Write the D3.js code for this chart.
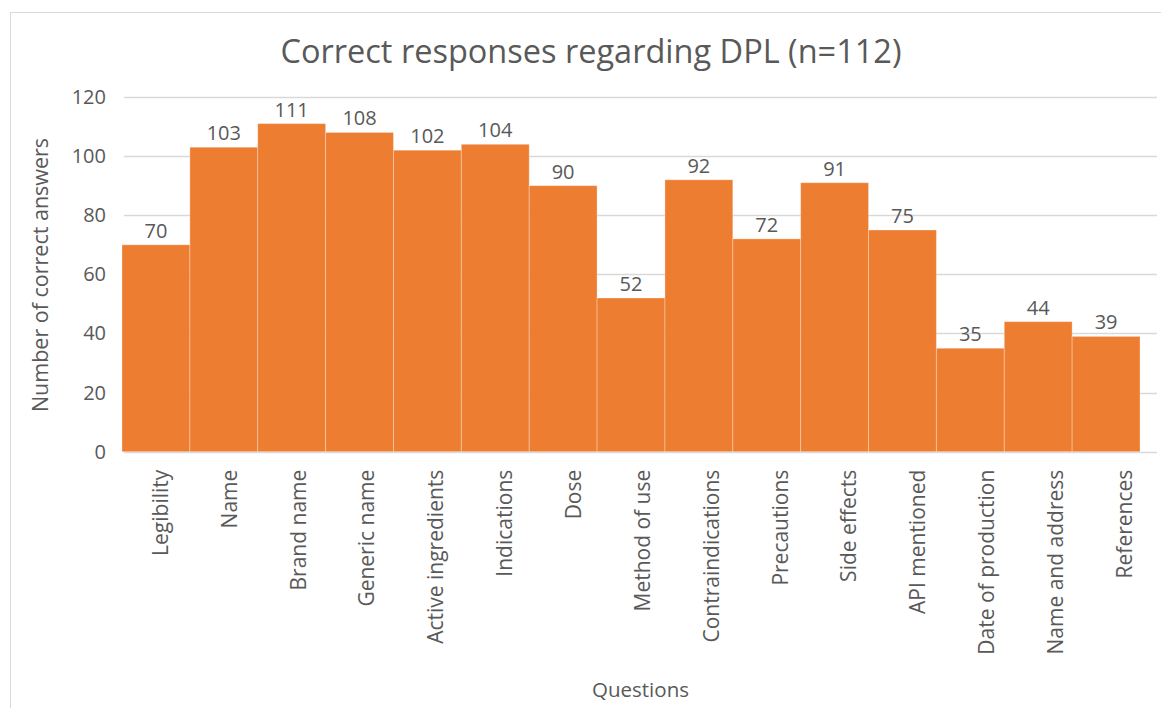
<!DOCTYPE html>
<html>
<head>
<meta charset="utf-8">
<script src="https://cdn.jsdelivr.net/npm/d3@7"></script>
<style>
  body { margin: 0; background: #fff; }
  svg { display: block; font-family: "Open Sans", sans-serif; }
  .tick-label, .value-label, .axis-title { fill: #595959; }
</style>
</head>
<body>
<svg width="1161" height="708"></svg>
<script>
const questions = [
  "Legibility", "Name", "Brand name", "Generic name", "Active ingredients",
  "Indications", "Dose", "Method of use", "Contraindications", "Precautions",
  "Side effects", "API mentioned", "Date of production", "Name and address", "References"
];
const correctCounts = [70, 103, 111, 108, 102, 104, 90, 52, 92, 72, 91, 75, 35, 44, 39];
const yTicks = [0, 20, 40, 60, 80, 100, 120];

const svg = d3.select("svg");

const plot = { left: 124, right: 1157, top: 97, bottom: 451.7 };

// chart frame (cropped on the right and bottom like the original)
svg.append("rect")
  .attr("x", 10.5).attr("y", 12.5)
  .attr("width", 1200).attr("height", 750)
  .attr("fill", "none")
  .attr("stroke", "#d9d9d9");

const y = d3.scaleLinear().domain([0, 120]).range([plot.bottom, plot.top]);
const xAxisScale = d3.scaleBand().domain(questions).range([plot.left, plot.right]).padding(0);
const xBars = d3.scaleBand().domain(questions).range([122, 1140]).padding(0);

// gridlines
svg.append("g").selectAll("line")
  .data(yTicks)
  .join("line")
  .attr("x1", plot.left).attr("x2", plot.right)
  .attr("y1", d => Math.round(y(d)) + 0.5).attr("y2", d => Math.round(y(d)) + 0.5)
  .attr("stroke", "#d9d9d9")
  .attr("stroke-width", 1.5);

// y tick labels
svg.append("g").selectAll("text")
  .data(yTicks)
  .join("text")
  .attr("class", "tick-label")
  .attr("x", 106)
  .attr("y", d => y(d))
  .attr("dy", "0.35em")
  .attr("text-anchor", "end")
  .style("font-size", "20px")
  .text(d => d);

// bars
svg.append("g").selectAll("rect")
  .data(questions)
  .join("rect")
  .attr("x", d => xBars(d))
  .attr("width", xBars.bandwidth())
  .attr("y", (d, i) => y(correctCounts[i]))
  .attr("height", (d, i) => y(0) - y(correctCounts[i]))
  .attr("fill", "#ed7d31")
  .attr("stroke", "rgba(255,255,255,0.3)")
  .attr("stroke-width", 1);

// value labels
svg.append("g").selectAll("text")
  .data(questions)
  .join("text")
  .attr("class", "value-label")
  .attr("x", d => xBars(d) + xBars.bandwidth() / 2)
  .attr("y", (d, i) => y(correctCounts[i]) - 7)
  .attr("text-anchor", "middle")
  .style("font-size", "20px")
  .text((d, i) => correctCounts[i]);

// category labels
const xAxis = d3.axisBottom(xAxisScale).tickSize(0).tickPadding(0);
const xg = svg.append("g")
  .attr("transform", `translate(0,${plot.bottom})`)
  .call(xAxis);
xg.select(".domain").remove();
xg.selectAll("text")
  .attr("class", "tick-label")
  .attr("transform", "rotate(-90)")
  .attr("x", -18)
  .attr("y", 2)
  .attr("dy", "0.35em")
  .attr("text-anchor", "end")
  .style("font-size", "21px")
  .style("font-family", "'Open Sans', sans-serif")
  .attr("fill", "#595959");

// title
svg.append("text")
  .attr("x", 591)
  .attr("y", 63)
  .attr("text-anchor", "middle")
  .attr("fill", "#595959")
  .style("font-size", "32.5px")
  .text("Correct responses regarding DPL (n=112)");

// axis titles
svg.append("text")
  .attr("class", "axis-title")
  .attr("x", (plot.left + plot.right) / 2)
  .attr("y", 697)
  .attr("text-anchor", "middle")
  .style("font-size", "20.5px")
  .text("Questions");

svg.append("text")
  .attr("class", "axis-title")
  .attr("transform", `translate(48,${(142 + 408) / 2}) rotate(-90)`)
  .attr("text-anchor", "middle")
  .style("font-size", "21.5px")
  .text("Number of correct answers");
</script>
</body>
</html>
